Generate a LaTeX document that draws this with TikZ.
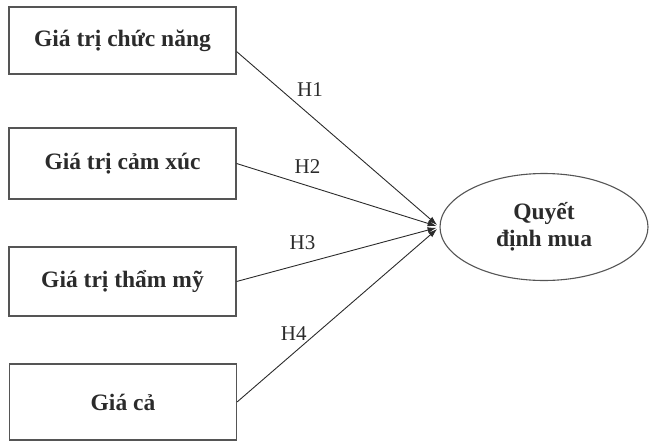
\documentclass[tikz,border=0pt]{standalone}
\usepackage{fontspec}
\setmainfont{Liberation Serif}
\usetikzlibrary{shapes.geometric,arrows.meta}
\definecolor{inkgray}{HTML}{2B2B2B}
\definecolor{boxgray}{HTML}{555555}
\begin{document}
\begin{tikzpicture}[x=1pt,y=-1pt]
    \useasboundingbox (0,0) rectangle (650,444);
    \begin{scope}[every node/.style={draw=boxgray, line width=1.1pt, text=inkgray,
        font=\fontsize{23.5}{27}\selectfont\bfseries, align=center}]
      \node [rectangle, minimum width=227pt, minimum height=67pt] (fn) at (122.5,40.5) {Giá trị chức năng};
      \node [rectangle, minimum width=227pt, minimum height=71pt] (em) at (122.5,163.5) {Giá trị cảm xúc};
      \node [rectangle, minimum width=227pt, minimum height=69pt] (ae) at (122.5,281.5) {Giá trị thẩm mỹ};
      \node [rectangle, minimum width=227pt, minimum height=76pt] (pr) at (123,402) {Giá cả};
      \node [ellipse, minimum width=208pt, minimum height=107pt, inner sep=0pt] (buy) at (544,227) {Quyết\\định mua};
    \end{scope}

    \begin{scope}[every node/.style={text=inkgray, font=\fontsize{21}{25}\selectfont}]
      \draw [-{Latex[length=9pt,width=6pt]}, inkgray, line width=0.9pt, shorten >=3pt] ([yshift=-11pt]fn.east) -- node [pos=0.28, above right] {H1} (buy.west);
      \draw [-{Latex[length=9pt,width=6pt]}, inkgray, line width=0.9pt, shorten >=3pt] (em.east) -- node [pos=0.35, above=8pt] {H2} (buy.west);
      \draw [-{Latex[length=9pt,width=6pt]}, inkgray, line width=0.9pt, shorten >=3pt] (ae.east) -- node [pos=0.325, above=10pt] {H3} (buy.west);
      \draw [-{Latex[length=9pt,width=6pt]}, inkgray, line width=0.9pt, shorten >=3pt] (pr.east) -- node [pos=0.28, above=9pt] {H4} (buy.west);
    \end{scope}
  \end{tikzpicture}
\end{document}
